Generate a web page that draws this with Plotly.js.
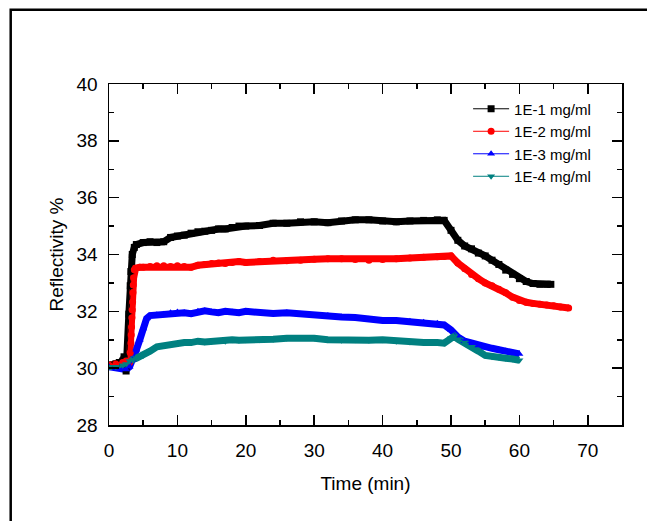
<!DOCTYPE html>
<html>
<head>
<meta charset="utf-8">
<script src="https://cdn.plot.ly/plotly-3.0.1.min.js"></script>
<style>html,body{margin:0;padding:0;background:#fff;}#chart{width:647px;height:521px;}</style>
</head>
<body>
<div id="chart"></div>
<script>
// Series names
const seriesNames = ["1E-1 mg/ml", "1E-2 mg/ml", "1E-3 mg/ml", "1E-4 mg/ml"];

// 1E-1 mg/ml (black, squares)
const t1 = [0, 0.5, 1, 1.5, 2, 2.2, 2.5, 2.9, 3.1, 3.2, 3.4, 3.7, 4, 5, 6, 7, 8, 9, 10, 11, 12, 13, 14, 15, 16, 17, 18, 19, 20, 22, 24, 26, 28, 30, 32, 34, 36, 38, 40, 42, 44, 46, 48, 49, 50, 51, 52, 53, 54, 55, 56, 57, 58, 59, 60, 61, 62, 63, 64, 64.6];
const v1 = [30.1, 30.1, 30.15, 30.2, 30.25, 30.4, 29.9, 31.9, 32.9, 33.4, 34.0, 34.25, 34.35, 34.42, 34.45, 34.42, 34.45, 34.6, 34.65, 34.68, 34.75, 34.8, 34.82, 34.85, 34.9, 34.9, 34.95, 35.0, 35.0, 35.02, 35.1, 35.1, 35.15, 35.15, 35.12, 35.18, 35.22, 35.22, 35.18, 35.15, 35.18, 35.2, 35.22, 35.2, 34.85, 34.5, 34.3, 34.2, 34.05, 33.95, 33.8, 33.65, 33.45, 33.3, 33.15, 33.05, 32.98, 32.95, 32.95, 32.95];

// 1E-2 mg/ml (red, circles)
const t2 = [0, 1, 2, 2.5, 3.0, 3.1, 3.2, 3.25, 3.3, 3.35, 3.4, 3.45, 3.5, 3.55, 3.6, 3.7, 3.9, 4.5, 5, 6, 7, 8, 9, 10, 11, 12, 13, 14, 15, 16, 17, 18, 19, 20, 22, 24, 26, 28, 30, 32, 34, 36, 38, 40, 42, 44, 46, 48, 49, 50, 51, 52, 53, 54, 55, 56, 57, 58, 59, 60, 61, 62, 63, 64, 65, 66, 67.2];
const v2 = [30.1, 30.15, 30.2, 30.25, 30.2, 30.54, 30.89, 31.17, 31.45, 31.77, 32.05, 32.33, 32.65, 32.93, 33.18, 33.46, 33.52, 33.55, 33.55, 33.58, 33.6, 33.6, 33.58, 33.6, 33.58, 33.55, 33.62, 33.65, 33.68, 33.7, 33.68, 33.72, 33.75, 33.72, 33.75, 33.8, 33.78, 33.8, 33.83, 33.85, 33.85, 33.82, 33.8, 33.82, 33.85, 33.88, 33.9, 33.92, 33.93, 33.95, 33.7, 33.5, 33.3, 33.15, 33.0, 32.9, 32.78, 32.65, 32.5, 32.38, 32.32, 32.28, 32.25, 32.22, 32.2, 32.15, 32.12];

// 1E-3 mg/ml (blue, up triangles)
const t3 = [0, 1, 2, 2.5, 3, 3.5, 4, 4.5, 5, 5.5, 6, 7, 8, 9, 10, 11, 12, 13, 14, 15, 16, 17, 18, 19, 20, 22, 24, 26, 28, 30, 32, 34, 36, 38, 40, 42, 44, 46, 48, 49, 50, 51, 52, 53, 54, 55, 56, 57, 58, 59, 60];
const v3 = [30.05, 30.0, 29.97, 29.95, 30.05, 30.3, 30.65, 31.0, 31.4, 31.75, 31.85, 31.88, 31.9, 31.95, 31.98, 31.95, 31.92, 32.0, 32.02, 31.98, 31.95, 32.0, 31.98, 31.95, 32.0, 31.95, 31.92, 31.95, 31.9, 31.85, 31.85, 31.8, 31.78, 31.72, 31.68, 31.68, 31.65, 31.62, 31.58, 31.52, 31.35, 31.1, 30.95, 30.88, 30.8, 30.72, 30.7, 30.65, 30.6, 30.55, 30.5];

// 1E-4 mg/ml (teal, down triangles)
const t4 = [0, 1, 2, 2.5, 3, 3.5, 4, 5, 6, 7, 8, 9, 10, 11, 12, 13, 14, 15, 16, 17, 18, 19, 20, 22, 24, 26, 28, 30, 32, 34, 36, 38, 40, 42, 44, 46, 48, 49, 50, 50.5, 51, 52, 53, 54, 55, 56, 57, 58, 59, 60];
const v4 = [30.05, 30.05, 30.1, 30.15, 30.25, 30.3, 30.35, 30.45, 30.6, 30.75, 30.8, 30.85, 30.88, 30.9, 30.9, 30.95, 30.92, 30.95, 30.98, 30.95, 31.0, 30.98, 31.0, 31.0, 31.02, 31.05, 31.08, 31.05, 31.0, 30.98, 31.0, 30.98, 31.0, 30.95, 30.92, 30.9, 30.9, 30.88, 31.05, 31.12, 31.02, 30.9, 30.75, 30.6, 30.45, 30.4, 30.38, 30.35, 30.32, 30.28];

const colors = ["#000000", "#ff0000", "#0000ff", "#008080"];
const symbols = ["square", "circle", "triangle-up", "triangle-down"];
const xs = [t1, t2, t3, t4];
const ys = [v1, v2, v3, v4];

const FONT = "Liberation Sans, Arial, sans-serif";
const traces = [];
// thick bands (dense overlapping markers in original)
for (let i = 0; i < 4; i++) {
  traces.push({
    x: xs[i], y: ys[i], type: "scatter", mode: "lines",
    line: {color: colors[i], width: 7},
    showlegend: false, hoverinfo: "skip"
  });
}
// thin line + markers (legend entries)
for (let i = 0; i < 4; i++) {
  traces.push({
    x: xs[i], y: ys[i], type: "scatter", mode: "lines+markers",
    name: seriesNames[i],
    line: {color: colors[i], width: 1},
    marker: {color: colors[i], symbol: symbols[i], size: 7}
  });
}

const axisCommon = {
  showline: true, linecolor: "#000", linewidth: 1.5,
  mirror: "ticks", ticks: "inside", ticklen: 10, tickwidth: 1.5, tickcolor: "#000",
  showgrid: false, zeroline: false,
  tickfont: {family: FONT, size: 19, color: "#000"}
};

const layout = {
  width: 647, height: 521,
  paper_bgcolor: "#fff", plot_bgcolor: "#fff",
  margin: {l: 109, r: 25, t: 84, b: 96},
  font: {family: FONT, color: "#000"},
  xaxis: Object.assign({}, axisCommon, {
    range: [0, 75], dtick: 10, tick0: 0,
    minor: {dtick: 5, ticks: "inside", ticklen: 5, tickwidth: 1.5, tickcolor: "#000"},
    ticklabelstandoff: 8,
    title: {text: "Time (min)", font: {family: FONT, size: 19, color: "#000"}, standoff: 16}
  }),
  yaxis: Object.assign({}, axisCommon, {
    range: [28, 40], dtick: 2, tick0: 28,
    minor: {dtick: 1, ticks: "inside", ticklen: 5, tickwidth: 1.5, tickcolor: "#000"},
    ticklabelstandoff: 6,
    title: {text: "Reflectivity %", font: {family: FONT, size: 19, color: "#000"}, standoff: 8}
  }),
  legend: {
    x: 0.70, y: 0.975, xanchor: "left", yanchor: "top",
    bgcolor: "rgba(0,0,0,0)", borderwidth: 0,
    font: {family: FONT, size: 15, color: "#000"},
    tracegroupgap: 0, itemwidth: 36
  },
  shapes: [{
    type: "rect", xref: "paper", yref: "paper",
    x0: -0.1916, x1: 2, y0: -2, y1: 1.2179,
    line: {color: "#000", width: 2.5}, fillcolor: "rgba(0,0,0,0)", layer: "above"
  }]
};

Plotly.newPlot("chart", traces, layout, {staticPlot: true, displayModeBar: false});
</script>
</body>
</html>
